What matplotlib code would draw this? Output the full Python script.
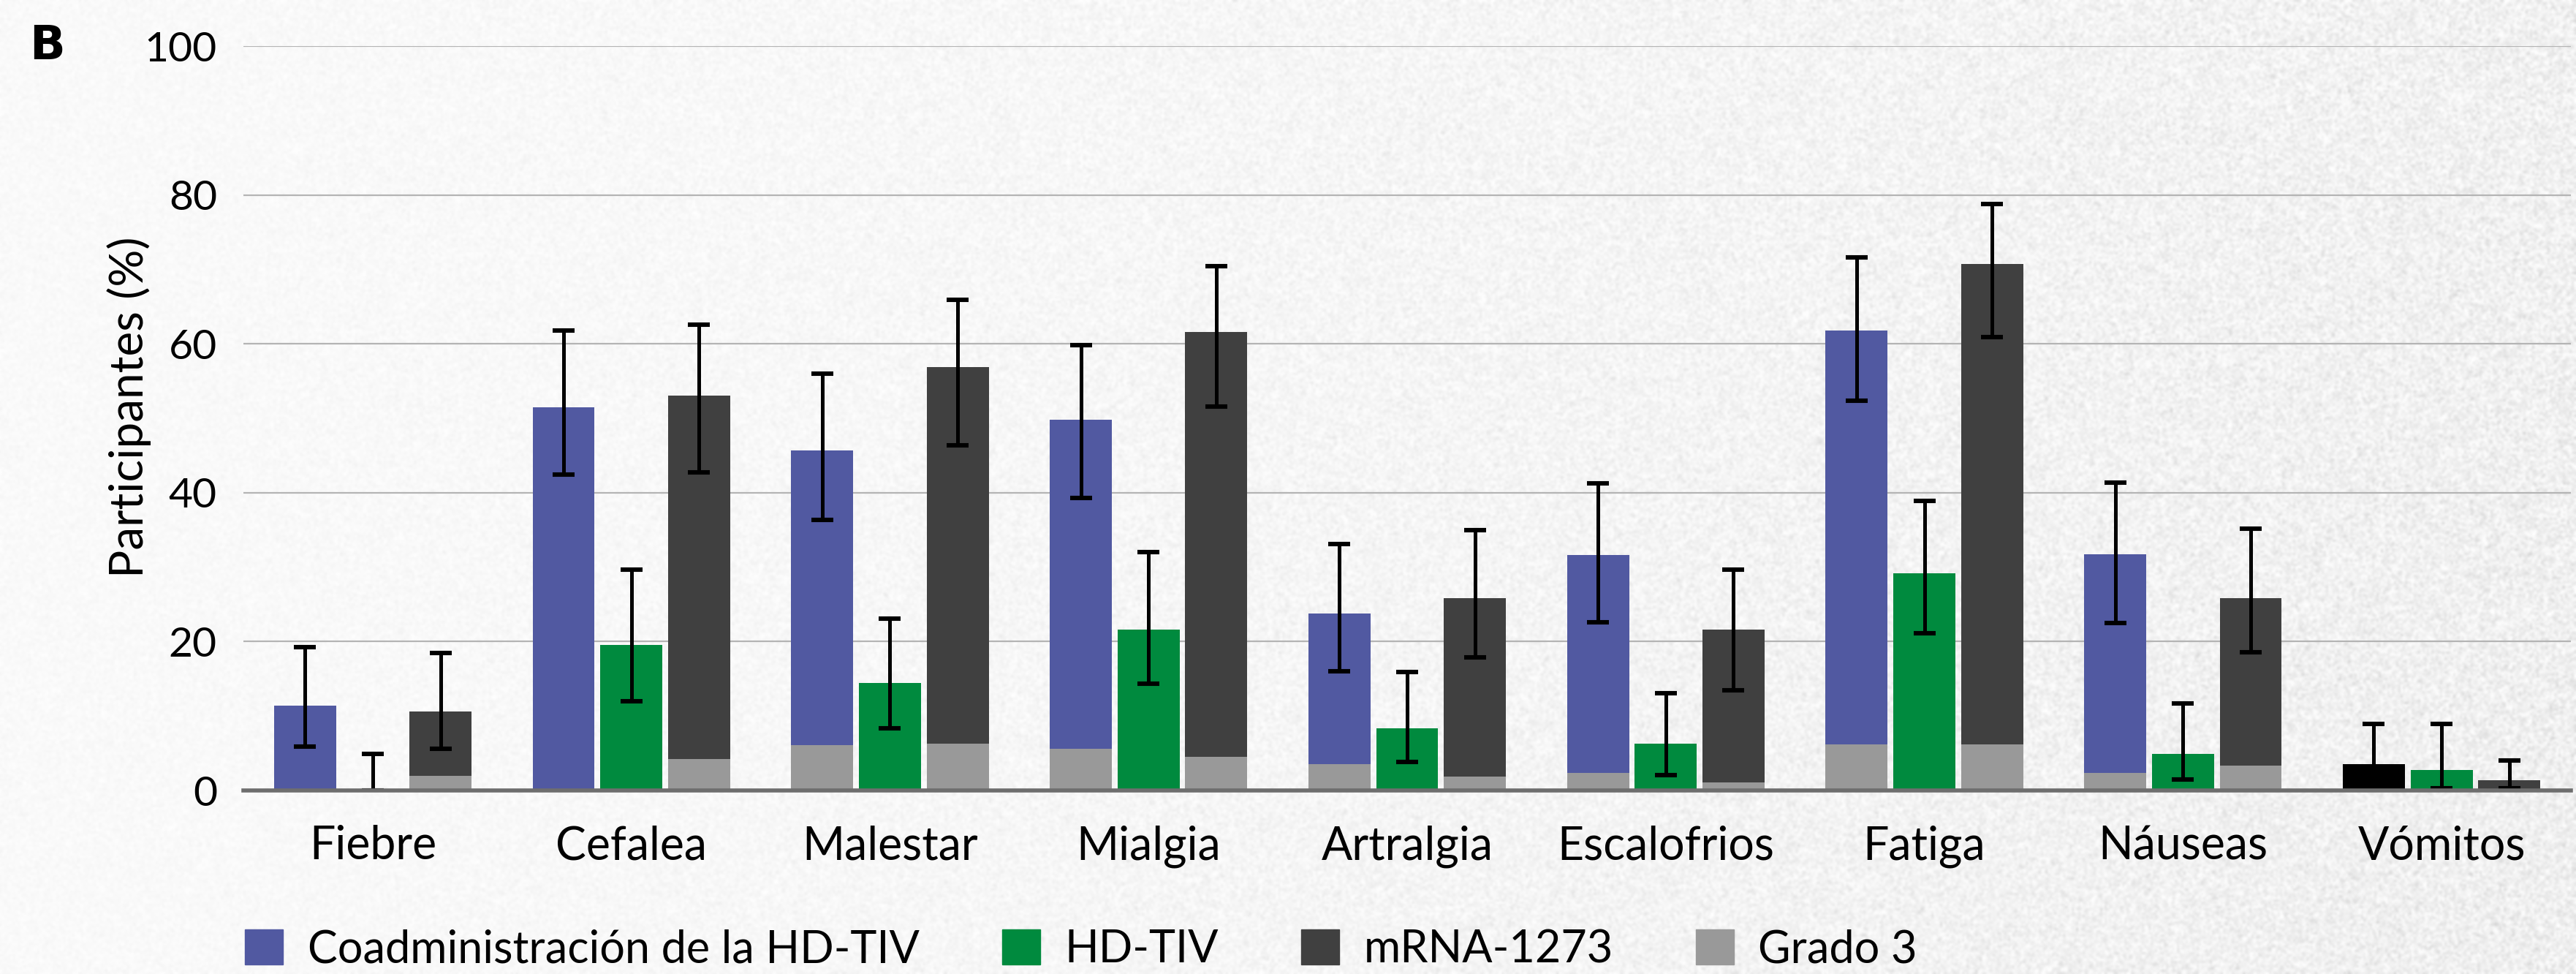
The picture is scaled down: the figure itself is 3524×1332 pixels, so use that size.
import numpy as np
import matplotlib.pyplot as plt
from matplotlib.patches import Patch

# reactogenicidad sistémica (% de participantes)
sintomas = ["Fiebre", "Cefalea", "Malestar", "Mialgia", "Artralgia",
            "Escalofrios", "Fatiga", "Náuseas", "Vómitos"]

coad = [11.4, 51.5, 45.7, 49.8, 23.8, 31.6, 61.8, 31.7, 3.5]
coad_lo = [5.9, 42.4, 36.3, 39.3, 16.0, 22.6, 52.4, 22.5, 0.9]
coad_hi = [19.3, 61.8, 56.0, 59.8, 33.1, 41.3, 71.6, 41.4, 8.9]
coad_g3 = [0.0, 0.0, 6.1, 5.6, 3.5, 2.4, 6.2, 2.4, 0.0]

hdtiv = [0.0, 19.6, 14.4, 21.6, 8.4, 6.3, 29.2, 4.9, 2.8]
hdtiv_lo = [0.0, 12.0, 8.4, 14.3, 3.8, 2.1, 21.1, 1.5, 0.3]
hdtiv_hi = [4.9, 29.7, 23.1, 32.0, 15.9, 13.1, 38.9, 11.7, 8.9]

mrna = [10.6, 53.0, 56.9, 61.6, 25.8, 21.6, 70.7, 25.8, 1.4]
mrna_lo = [5.6, 42.7, 46.4, 51.6, 17.9, 13.5, 60.9, 18.6, 0.3]
mrna_hi = [18.5, 62.6, 65.9, 70.4, 35.0, 29.7, 78.8, 35.2, 4.0]
mrna_g3 = [2.0, 4.2, 6.3, 4.5, 1.9, 1.1, 6.2, 3.3, 0.0]

yticks = [0, 20, 40, 60, 80, 100]

AZUL = "#5159a1"
VERDE = "#008a3e"
OSCURO = "#404040"
GRADO3 = "#999999"

plt.rcParams["font.family"] = ["Lato", "DejaVu Sans"]

fig = plt.figure(figsize=(35.24, 13.32), dpi=100)

# fondo tipo papel, con grano más marcado hacia la derecha
bg = fig.add_axes([0, 0, 1, 1], zorder=-10)
rng = np.random.default_rng(3)
h, w = 444, 1175
fx = np.linspace(0, 1, w)[None, :]
fy = np.linspace(0, 1, h)[:, None]
base = 0.978 - 0.032 * fx ** 1.5 - 0.01 * fy * fx
amp = 0.01 + 0.032 * fx ** 1.3
tex = base + amp * rng.normal(0, 1, (h, w))
bg.imshow(tex, cmap="gray", vmin=0, vmax=1, aspect="auto",
          interpolation="bicubic", extent=[0, 1, 0, 1])
bg.set_axis_off()

ax = fig.add_axes([0.0945, 0.1884, 0.9035, 0.7643])
ax.set_facecolor("none")

x = np.arange(len(sintomas))
bw = 0.24
step = 0.262

coad_colors = [AZUL] * (len(sintomas) - 1) + ["#000000"]
err_kw = dict(ecolor="black", elinewidth=3.6, capsize=10.5, capthick=4.4)

def yerr(v, lo, hi):
    v = np.array(v)
    return [v - np.array(lo), np.array(hi) - v]

ax.bar(x - step, coad, bw, color=coad_colors, zorder=2)
ax.bar(x - step, coad_g3, bw, color=GRADO3, zorder=3)
ax.bar(x, hdtiv, bw, color=VERDE, zorder=2)
ax.bar(x + step, mrna, bw, color=OSCURO, zorder=2)
ax.bar(x + step, mrna_g3, bw, color=GRADO3, zorder=3)

ax.errorbar(x - step, coad, yerr=yerr(coad, coad_lo, coad_hi), fmt="none", zorder=4, **err_kw)
ax.errorbar(x, hdtiv, yerr=yerr(hdtiv, hdtiv_lo, hdtiv_hi), fmt="none", zorder=4, **err_kw)
ax.errorbar(x + step, mrna, yerr=yerr(mrna, mrna_lo, mrna_hi), fmt="none", zorder=4, **err_kw)

ax.set_xlim(-0.5, 8.5)
ax.set_ylim(0, 100)
ax.set_yticks(yticks)
ax.set_xticks(x)
ax.set_xticklabels(sintomas)
ax.tick_params(axis="x", length=0, pad=34, labelsize=45)
ax.tick_params(axis="y", length=0, pad=26, labelsize=41)

ax.grid(axis="y", color="#b4b4b4", linewidth=1.6, zorder=0)
ax.set_axisbelow(True)
for s in ["top", "right", "left"]:
    ax.spines[s].set_visible(False)
ax.spines["bottom"].set_color("#6e6e6e")
ax.spines["bottom"].set_linewidth(4)
ax.spines["bottom"].set_zorder(5)

fig.text(0.05, 0.582, "Participantes (%)", rotation=90, fontsize=46,
         ha="center", va="center")
fig.text(0.0114, 0.976, "B", fontsize=46, fontweight="bold", ha="left", va="top",
         family=["DejaVu Sans"])

handles = [Patch(color=AZUL), Patch(color=VERDE), Patch(color=OSCURO), Patch(color=GRADO3)]
labels = ["Coadministración de la HD-TIV", "HD-TIV", "mRNA-1273", "Grado 3"]
fig.legend(handles, labels, loc="center left", bbox_to_anchor=(0.0795, 0.025),
           ncol=4, frameon=False, fontsize=44, handlelength=0.85, handleheight=0.85,
           handletextpad=0.55, columnspacing=1.85)

fig.savefig("out.png", dpi=100)
